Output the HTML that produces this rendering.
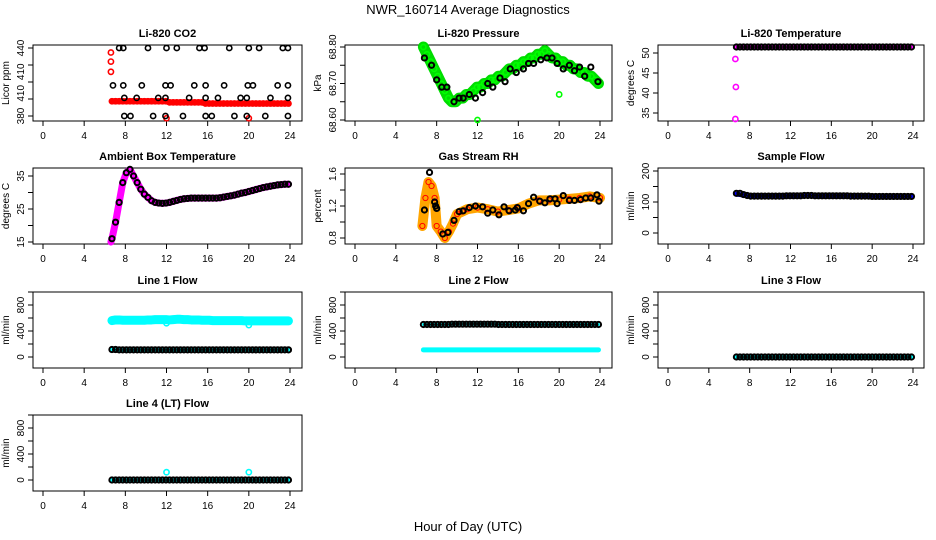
<!DOCTYPE html>
<html><head><meta charset="utf-8"><style>
body{margin:0;background:#fff}
svg{display:block;font-family:"Liberation Sans",sans-serif}
</style></head><body>
<svg id="c" width="936" height="540"></svg>
<script>
// ---- data ----
const hrs=[6.7,7.05,7.4,7.75,8.1,8.45,8.8,9.15,9.5,9.85,10.2,10.55,10.9,11.25,11.6,11.95,12.3,12.65,13.0,13.35,13.7,14.05,14.4,14.75,15.1,15.45,15.8,16.15,16.5,16.85,17.2,17.55,17.9,18.25,18.6,18.95,19.3,19.65,20.0,20.35,20.7,21.05,21.4,21.75,22.1,22.45,22.8,23.15,23.5,23.85];
const xTicks=[0,4,8,12,16,20,24];
// CO2
const co2Red=[393,393,393,393,393,393,393,393,393,393,393,393,393,393,393,393,392,392,392,392,392,392,392,392,392,392,391,391,391,391,391,391,391,391,391,391,391,391,391,391,391,391,391,391,391,391,391,391,391,391];
const co2RedOutH=[6.6,6.6,6.6,12,20];
const co2RedOutV=[436,428,419,378,378];
const co2BlkH=[7.4,7.8,10.2,12,13,15.2,15.7,18.1,20,21,23.3,23.8, 6.8,7.8,9.6,11.9,12.4,14.7,15.8,17.6,19.9,20.4,22.8,23.8, 7.9,9.1,11.2,11.9,14.2,15.8,17,19.2,19.8,22.1,23.8, 7.9,8.5,10.7,11.9,13.6,15.8,16.4,18.6,19.8,21.6,23.8];
const co2BlkV=[440,440,440,440,440,440,440,440,440,440,440,440, 407,407,407,407,407,407,407,407,407,407,407,407, 396,396,396,396,396,396,396,396,396,396,396, 380,380,380,380,380,380,380,380,380,380,380];
// Pressure
const presGreen=[68.80,68.78,68.76,68.74,68.72,68.70,68.68,68.66,68.65,68.65,68.66,68.66,68.67,68.67,68.68,68.69,68.69,68.70,68.70,68.71,68.71,68.72,68.72,68.73,68.74,68.74,68.75,68.75,68.76,68.76,68.77,68.77,68.78,68.78,68.79,68.78,68.77,68.77,68.76,68.76,68.75,68.75,68.74,68.74,68.73,68.73,68.72,68.72,68.71,68.70];
const presGreenOutH=[12,20];
const presGreenOutV=[68.60,68.67];
const presBlkH=[6.8,7.5,8,8.5,9,9.7,10.2,10.6,11.2,11.8,12.5,13,13.5,14.2,14.7,15.2,15.8,16.5,17,17.5,18.2,18.8,19.3,19.8,20.4,21,21.5,22,22.5,23.1,23.8];
const presBlkV=[68.77,68.75,68.71,68.69,68.69,68.65,68.66,68.66,68.67,68.66,68.675,68.70,68.69,68.715,68.705,68.74,68.73,68.74,68.755,68.755,68.765,68.77,68.77,68.755,68.74,68.75,68.735,68.745,68.72,68.745,68.705];
// Li-820 temperature
const tempVal=[51.5,51.5,51.5,51.5,51.5,51.5,51.5,51.5,51.5,51.5,51.5,51.5,51.5,51.5,51.5,51.5,51.5,51.5,51.5,51.5,51.5,51.5,51.5,51.5,51.5,51.5,51.5,51.5,51.5,51.5,51.5,51.5,51.5,51.5,51.5,51.5,51.5,51.5,51.5,51.5,51.5,51.5,51.5,51.5,51.5,51.5,51.5,51.5,51.5,51.5];
const tempOutH=[6.6,6.65,6.6];
const tempOutV=[48.5,41.5,33.5];
// Ambient box
const ambVal=[16,21,27,33,36,37,35,33,31,29.5,28.5,27.5,27,26.8,26.7,26.8,27,27.3,27.6,27.9,28.1,28.2,28.3,28.3,28.3,28.3,28.3,28.3,28.3,28.3,28.4,28.6,28.8,29,29.2,29.5,29.8,30,30.3,30.6,30.9,31.2,31.5,31.7,31.9,32.1,32.3,32.4,32.5,32.5];
// RH
const rhBandH=[6.6,6.9,7.2,7.5,7.8,8.0,8.4,8.8,9.2,9.6,10,10.5,11,12,13,14,15,16,17,18,19,20,21,22,23,24];
const rhBandV=[0.95,1.3,1.5,1.45,1.3,0.95,0.88,0.8,0.88,0.98,1.1,1.13,1.16,1.18,1.16,1.13,1.15,1.17,1.23,1.27,1.27,1.28,1.29,1.3,1.32,1.3];
const rhBlkH=[6.8,7.3,7.8,7.9,8.0,8.6,9.1,9.7,10.2,10.6,11.2,11.8,12.5,13,13.5,14.1,14.6,15.1,15.7,15.9,16.5,17,17.5,18.1,18.6,19.1,19.6,19.8,20.4,21,21.5,22.1,22.6,23.1,23.7,23.9];
const rhBlkV=[1.15,1.62,1.25,1.2,1.17,0.85,0.87,1.02,1.13,1.14,1.18,1.2,1.19,1.11,1.15,1.09,1.19,1.14,1.15,1.18,1.14,1.23,1.31,1.26,1.24,1.29,1.29,1.23,1.33,1.27,1.27,1.28,1.3,1.3,1.34,1.26];
// Sample flow
const sfBlue=[125,124,122,120,119,119,119,119,119,119,119,119,119,120,120,120,121,121,121,121,121,121,121,121,121,121,121,120,120,120,120,120,119,119,119,119,119,119,118,118,118,118,118,118,118,118,118,118,118,118];
const sfBlk=[128,128,124,121,119,119,119,119,119,119,119,119,119,119,120,120,120,120,120,121,121,121,120,120,120,120,120,120,120,120,120,120,119,119,119,119,119,119,118,118,118,118,118,118,118,118,118,118,118,118];
// Line flows
const l1Cyan=[560,570,570,565,565,565,565,565,565,565,570,570,575,575,575,575,570,575,580,580,575,575,570,570,570,565,565,565,560,560,560,560,560,560,560,560,560,555,555,555,555,555,555,555,555,555,555,555,555,555];
const l1Blk=[115,115,110,110,110,110,110,110,110,110,110,110,110,110,110,110,110,110,110,110,110,110,110,110,110,110,110,110,110,110,110,110,110,110,110,110,110,110,110,110,110,110,110,110,110,110,110,110,110,110];
const l1OutH=[12,20];
const l1OutV=[520,490];
const l2Blk=[500,500,500,500,500,500,500,500,505,505,505,505,505,505,505,505,505,505,505,505,505,500,500,500,500,500,500,500,500,500,500,500,500,500,500,500,500,500,500,500,500,500,500,500,500,500,500,500,500,500];
const l2Cyan=[110,110,110,110,110,110,110,110,110,110,110,110,110,110,110,110,110,110,110,110,110,110,110,110,110,110,110,110,110,110,110,110,110,110,110,110,110,110,110,110,110,110,110,110,110,110,110,110,110,110];
const zeroVals=[0,0,0,0,0,0,0,0,0,0,0,0,0,0,0,0,0,0,0,0,0,0,0,0,0,0,0,0,0,0,0,0,0,0,0,0,0,0,0,0,0,0,0,0,0,0,0,0,0,0];
const l4OutH=[12,20];
const l4OutV=[120,120];

// ---- drawing ----
const NS="http://www.w3.org/2000/svg";
const svg=document.getElementById('c');
function el(tag,attrs,parent){const e=document.createElementNS(NS,tag);for(const k in attrs)e.setAttribute(k,attrs[k]);(parent||svg).appendChild(e);return e;}
const cols=[{l:33,r:302,x0:43,x24:290},{l:345,r:612,x0:355,x24:600},{l:658,r:924,x0:668,x24:913}];
const rows=[45,168,292,415];
function panel(ci,ri,title,name,ylab,v1,p1,v2,p2,ticks,labels){
  const c=cols[ci],top=rows[ri],bot=top+76;
  const g=el('g',{});
  
  
  const X=h=>c.x0+(c.x24-c.x0)*h/24;
  const Y=v=>p1+(v-v1)*(p2-p1)/(v2-v1);
  el('rect',{x:c.l,y:top,width:c.r-c.l,height:bot-top,fill:'none',stroke:'#000','stroke-width':1},g);
  const t=el('text',{x:(c.l+c.r)/2,y:top-8,'text-anchor':'middle','font-size':11,'font-weight':'bold'},g);t.textContent=title;
  
  xTicks.forEach(h=>{el('line',{x1:X(h),x2:X(h),y1:bot,y2:bot+5,stroke:'#000'},g);
    const tx=el('text',{x:X(h),y:bot+18,'text-anchor':'middle','font-size':10},g);tx.textContent=h;
    });
  ticks.forEach(v=>el('line',{x1:c.l,x2:c.l-5,y1:Y(v),y2:Y(v),stroke:'#000'},g));
  labels.forEach(([v,s])=>{const tx=el('text',{x:0,y:0,transform:`translate(${c.l-9},${Y(v)}) rotate(-90)`,'text-anchor':'middle','font-size':10},g);tx.textContent=s;
    });
  const yl=el('text',{x:0,y:0,transform:`translate(${c.l-24},${(top+bot)/2}) rotate(-90)`,'text-anchor':'middle','font-size':10},g);yl.textContent=ylab;
  
  const clip=el('g',{},g);
  return {
    band(H,V,color,w){el('polyline',{points:H.map((h,i)=>X(h)+','+Y(V[i])).join(' '),fill:'none',stroke:color,'stroke-width':w,'stroke-linejoin':'round','stroke-linecap':'round'},clip);},
    pts(H,V,color,sw){H.forEach((h,i)=>{const p=el('circle',{cx:X(h),cy:Y(V[i]),r:2.6,fill:'none',stroke:color,'stroke-width':sw||1.6},clip);
      });}
  };
}
// CO2
let p=panel(0,0,'Li-820 CO2','co2-panel','Licor ppm',440,48,380,116,[440,425,410,395,380],[[440,'440'],[419,'410'],[400,'410'],[380,'380']]);
p.band(hrs,co2Red,'#ff0000',6);p.pts(hrs,co2Red,'#ff0000');p.pts(co2RedOutH,co2RedOutV,'#ff0000');p.pts(co2BlkH,co2BlkV,'#000');
// Pressure
p=panel(1,0,'Li-820 Pressure','pressure-panel','kPa',68.80,47,68.60,120,[68.60,68.65,68.70,68.75,68.80],[[68.60,'68.60'],[68.70,'68.70'],[68.80,'68.80']]);
p.band(hrs,presGreen,'#00dd00',11);p.pts(hrs,presGreen,'#00ff00');p.pts(presGreenOutH,presGreenOutV,'#00ff00');p.pts(presBlkH,presBlkV,'#000',2);
// Temp
p=panel(2,0,'Li-820 Temperature','li820-temp-panel','degrees C',50,53,35,113,[35,40,45,50],[[35,'35'],[40,'40'],[45,'45'],[50,'50']]);
p.band(hrs,tempVal,'#ff00ff',4);p.pts(tempOutH,tempOutV,'#ff00ff');p.pts(hrs,tempVal,'#000',2);
// Ambient
p=panel(0,1,'Ambient Box Temperature','ambient-temp-panel','degrees C',35,176,15,242,[15,20,25,30,35],[[15,'15'],[25,'25'],[35,'35']]);
p.band([6.6].concat(hrs),[15].concat(ambVal),'#ff00ff',7);p.pts(hrs,ambVal,'#000',2);
// RH
p=panel(1,1,'Gas Stream RH','rh-panel','percent',1.6,174,0.8,238,[0.8,1.0,1.2,1.4,1.6],[[0.8,'0.8'],[1.2,'1.2'],[1.6,'1.6']]);
p.band(rhBandH,rhBandV,'#ffa500',10);p.pts(rhBandH,rhBandV,'#ff0000',1);p.pts(rhBlkH,rhBlkV,'#000',2);
// Sample flow
p=panel(2,1,'Sample Flow','sample-flow-panel','ml/min',200,171,0,233,[0,50,100,150,200],[[0,'0'],[100,'100'],[200,'200']]);
p.band(hrs,sfBlue,'#0000ff',5);p.pts(hrs,sfBlk,'#000',2);
// Line flows
const fl=[[0,'0'],[400,'400'],[800,'800']],ft=[0,200,400,600,800,1000];
p=panel(0,2,'Line 1 Flow','line1-flow-panel','ml/min',800,305,0,357,ft,fl);
p.band(hrs,l1Cyan,'#00ffff',9);p.pts(l1OutH,l1OutV,'#00ffff');p.band(hrs,l1Blk,'#00ffff',4);p.pts(hrs,l1Blk,'#000',2);
p=panel(1,2,'Line 2 Flow','line2-flow-panel','ml/min',800,305,0,357,ft,fl);
p.band(hrs,l2Cyan,'#00ffff',5);p.band(hrs,l2Blk,'#00ffff',3);p.pts(hrs,l2Blk,'#000',2);
p=panel(2,2,'Line 3 Flow','line3-flow-panel','ml/min',800,305,0,357,ft,fl);
p.band(hrs,zeroVals,'#00ffff',4);p.pts(hrs,zeroVals,'#000',2);
p=panel(0,3,'Line 4 (LT) Flow','line4-flow-panel','ml/min',800,428,0,480,ft,fl);
p.band(hrs,zeroVals,'#00ffff',4);p.pts(l4OutH,l4OutV,'#00ffff');p.pts(hrs,zeroVals,'#000',2);

let t=el('text',{x:468,y:14,'text-anchor':'middle','font-size':13});t.textContent='NWR_160714  Average Diagnostics';

t=el('text',{x:468,y:531,'text-anchor':'middle','font-size':13});t.textContent='Hour of Day (UTC)';

</script>
</body></html>
